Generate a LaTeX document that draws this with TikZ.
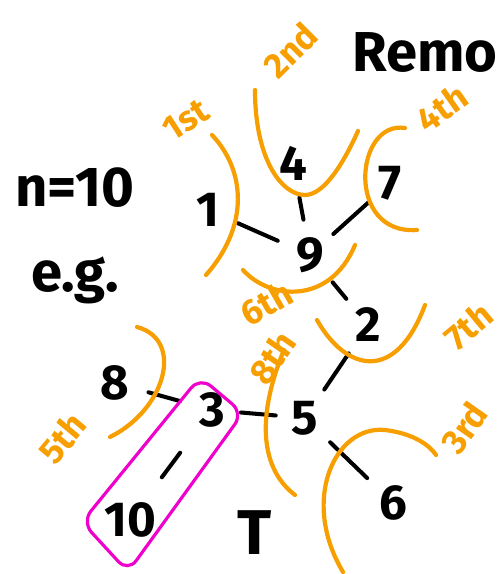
\documentclass[tikz,border=0pt]{standalone}
\usepackage{fontspec}
\setmainfont{Fira Sans}
\usepackage{tikz}
\usetikzlibrary{positioning}

\definecolor{cutorange}{RGB}{247,158,0}
\definecolor{pickpink}{RGB}{240,0,205}

\begin{document}
\begin{tikzpicture}[
        x=0.02cm,
        y=-0.02cm,
        num/.style={inner sep=3pt, font=\fontsize{28}{30}\selectfont\bfseries},
        edge/.style={line width=2.3pt, line cap=round},
        cut/.style={cutorange, line width=2.4pt, line cap=round},
        order/.style={text=cutorange, inner sep=1pt, font=\fontsize{20}{22}\selectfont\bfseries},
        note/.style={font=\fontsize{32}{34}\selectfont\bfseries}
    ]
        \useasboundingbox (0,0) rectangle (500,574);

        % the tree T
        \foreach \n/\x/\y in {1/208/210,4/293/163,7/390/183,9/310/255,2/368/325,
                              8/115/383,3/212/410,5/305/418,10/130/520,6/393/503}{
            \node[num] (n\n) at (\x,\y) {\n};
        }
        \foreach \a/\b/\gap in {1/9/8pt,4/9/7pt,7/9/3pt,9/2/3pt,2/5/4pt,
                                8/3/8pt,3/5/6pt,5/6/5pt,3/10/14pt}{
            \draw[edge, shorten <=\gap, shorten >=\gap] (n\a) -- (n\b);
        }

        \node[note, anchor=west] (remo) at (346,52) {Remo};
        \node[note] (size) at (75,188) {n=10};
        \node[note] (eg) at (75,280) {e.g.};
        \node[note, font=\fontsize{36}{38}\selectfont\bfseries] (tname) at (255,533) {T};

        % cuts, in the order they are made
        \draw[cut] (212,135) .. controls (245,170) and (250,225) .. (206,275);
        \draw[cut] (255,90) .. controls (255,160) and (282,195) .. (305,195)
                   .. controls (325,195) and (345,160) .. (358,131);
        \draw[cut] (343,572) .. controls (300,500) and (335,425) .. (385,430)
                   .. controls (410,433) and (428,443) .. (436,455);
        \draw[cut] (405,128) .. controls (355,120) and (345,235) .. (417,230);
        \draw[cut] (137,327) .. controls (185,340) and (165,410) .. (110,437);
        \draw[cut] (243,270) .. controls (270,300) and (330,305) .. (355,245);
        \draw[cut] (317,320) .. controls (345,370) and (395,385) .. (425,305);
        \draw[cut] (284,350) .. controls (255,420) and (262,470) .. (295,495);

        \node[order, rotate=33] (o1) at (186,120) {1st};
        \node[order, rotate=45] (o2) at (290,50) {2nd};
        \node[order, rotate=55] (o3) at (464,428) {3rd};
        \node[order, rotate=35] (o4) at (442,108) {4th};
        \node[order, rotate=50] (o5) at (62,438) {5th};
        \node[order, rotate=30] (o6) at (266,303) {6th};
        \node[order, rotate=40] (o7) at (468,326) {7th};
        \node[order, rotate=55] (o8) at (272,358) {8th};

        % the picked part
        \draw[pickpink, line width=1.8pt, rounded corners=8pt]
            (200,377) -- (243,413) -- (128,572) -- (82,522) -- cycle;
    \end{tikzpicture}
\end{document}
